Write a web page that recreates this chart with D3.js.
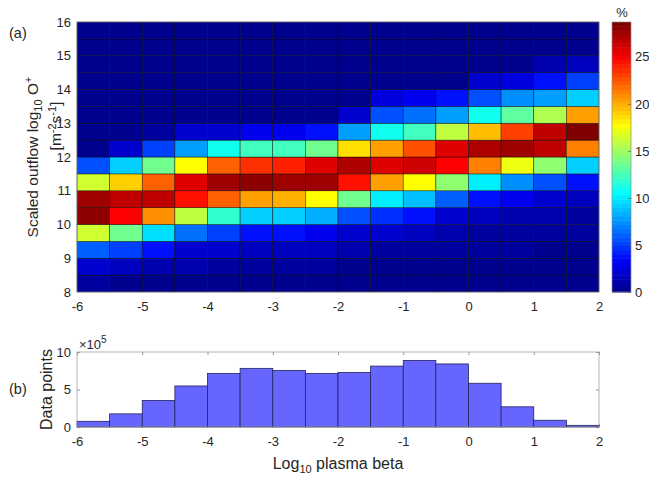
<!DOCTYPE html>
<html>
<head>
<meta charset="utf-8">
<script src="https://cdnjs.cloudflare.com/ajax/libs/d3/7.8.5/d3.min.js"></script>
<style>
    body { margin: 0; background: #fff; }
    text { font-family: "Liberation Sans", Arial, Helvetica, sans-serif; fill: #262626; }
</style>
</head>
<body>
<svg id="fig" width="649" height="479"></svg>
<script>
'use strict';

// left edges of the log10 plasma beta bins
var betaBins = [-6, -5.5, -5, -4.5, -4, -3.5, -3, -2.5, -2, -1.5, -1, -0.5, 0, 0.5, 1, 1.5];
// bottom edges of the log10 outflow bins
var fluxBins = [8, 8.5, 9, 9.5, 10, 10.5, 11, 11.5, 12, 12.5, 13, 13.5, 14, 14.5, 15, 15.5];
var binWidth = 0.5;

// percent of points in each cell, one row per flux bin (bottom row first)
var pct = [
    [0.7, 0.4, 0.3, 0.3, 0.3, 0.2, 0.2, 0.2, 0.2, 0.2, 0.2, 0.2, 0.2, 0.2, 0.2, 0.2],
    [2.2, 1.6, 1.2, 1.1, 0.7, 0.6, 0.6, 0.5, 0.4, 0.4, 0.3, 0.3, 0.3, 0.3, 0.2, 0.2],
    [6.1, 5.0, 3.6, 2.2, 1.8, 1.6, 1.6, 1.4, 1.1, 0.7, 0.6, 0.6, 0.5, 0.5, 0.4, 0.4],
    [16.5, 13.6, 9.8, 6.5, 5.0, 3.6, 3.6, 3.1, 2.2, 2.2, 1.4, 1.1, 0.7, 0.7, 0.6, 0.5],
    [28.0, 25.1, 20.8, 15.8, 11.8, 9.3, 9.0, 8.1, 5.7, 4.7, 3.6, 2.2, 1.7, 1.2, 1.0, 0.7],
    [27.5, 26.5, 26.5, 24.6, 22.0, 20.3, 19.9, 17.9, 13.6, 10.0, 8.6, 6.0, 3.6, 2.7, 1.8, 1.4],
    [16.5, 19.0, 22.0, 25.6, 27.8, 28.0, 27.8, 27.8, 24.4, 20.3, 17.9, 14.4, 10.0, 7.2, 5.4, 3.6],
    [5.7, 9.3, 13.6, 17.9, 22.0, 23.7, 24.0, 26.0, 27.3, 25.6, 26.3, 25.1, 21.2, 17.4, 14.4, 9.3],
    [0.4, 2.2, 5.0, 7.9, 10.8, 12.2, 12.5, 13.6, 18.4, 20.6, 22.7, 25.6, 27.0, 27.5, 26.5, 21.5],
    [0.1, 0.2, 0.6, 1.8, 2.2, 2.7, 3.1, 3.6, 7.9, 10.8, 12.2, 16.1, 19.7, 23.0, 26.5, 28.7],
    [0.1, 0.1, 0.1, 0.1, 0.2, 0.2, 0.2, 0.2, 1.8, 5.7, 6.5, 7.9, 11.1, 13.3, 15.4, 20.6],
    [0.1, 0.1, 0.1, 0.1, 0.1, 0.1, 0.1, 0.1, 0.1, 2.5, 3.1, 3.6, 5.7, 7.2, 7.9, 9.3],
    [0.1, 0.1, 0.1, 0.1, 0.1, 0.1, 0.1, 0.1, 0.1, 0.1, 0.1, 0.1, 1.8, 2.5, 3.6, 5.0],
    [0.0, 0.0, 0.0, 0.0, 0.0, 0.0, 0.0, 0.0, 0.0, 0.0, 0.0, 0.0, 0.1, 0.2, 0.9, 1.6],
    [0.0, 0.0, 0.0, 0.0, 0.0, 0.0, 0.0, 0.0, 0.0, 0.0, 0.0, 0.0, 0.0, 0.1, 0.2, 0.4],
    [0.0, 0.0, 0.0, 0.0, 0.0, 0.0, 0.0, 0.0, 0.0, 0.0, 0.0, 0.0, 0.0, 0.0, 0.0, 0.0]
];

// data points per beta bin, in units of 1e5
var counts = [0.76, 1.75, 3.54, 5.47, 7.15, 7.82, 7.55, 7.15, 7.28, 8.12, 8.88, 8.41, 5.83, 2.69, 0.9, 0.22];

var betaTicks = [-6, -5, -4, -3, -2, -1, 0, 1, 2];
var fluxTicks = [8, 9, 10, 11, 12, 13, 14, 15, 16];
var pctTicks = [0, 5, 10, 15, 20, 25];
var countTicks = [0, 5, 10];
var pctMax = 28.7;

var svg = d3.select('#fig');

var x = d3.scaleLinear().domain([-6, 2]).range([77, 599]);
var y = d3.scaleLinear().domain([8, 16]).range([292, 22]);
var yh = d3.scaleLinear().domain([0, 10]).range([427, 352]);
var yc = d3.scaleLinear().domain([0, pctMax]).range([292, 22]);

// plain hyphen minus like matlab, not the unicode one
var fmt = function (d) { return String(d); };

// matlab jet(m)
var jet = function (m) {
    var n = Math.ceil(m / 4), u = [], i;
    for (i = 1; i <= n; i++) u.push(i / n);
    for (i = 1; i < n; i++) u.push(1);
    for (i = n; i >= 1; i--) u.push(i / n);
    var off = Math.ceil(n / 2) - (m % 4 === 1 ? 1 : 0);
    var pick = function (j) {
        return (j >= 1 && j <= u.length) ? u[j - 1] : 0;
    };
    var out = [];
    for (var p = 1; p <= m; p++) {
        out.push(d3.rgb(255 * pick(p - off - n), 255 * pick(p - off), 255 * pick(p - off + n)).toString());
    }
    return out;
};
var jetColors = jet(64);
var color = d3.scaleQuantize().domain([0, pctMax]).range(jetColors);

// ---- (a) heat map
var cells = [];
pct.forEach(function (row, i) {
    row.forEach(function (v, j) {
        cells.push({b: betaBins[j], f: fluxBins[i], v: v});
    });
});

svg.append('g').attr('class', 'cells')
    .selectAll('rect')
    .data(cells)
    .enter().append('rect')
    .attr('x', function (c) { return x(c.b); })
    .attr('y', function (c) { return y(c.f + binWidth); })
    .attr('width', function (c) { return x(c.b + binWidth) - x(c.b); })
    .attr('height', function (c) { return y(c.f) - y(c.f + binWidth); })
    .attr('fill', function (c) { return color(c.v); })
    .attr('stroke', '#000')
    .attr('stroke-opacity', 0.7)
    .attr('stroke-width', 0.6);

svg.append('rect')
    .attr('x', x(-6)).attr('y', y(16))
    .attr('width', x(2) - x(-6)).attr('height', y(8) - y(16))
    .attr('fill', 'none').attr('stroke', '#8a8a8a').attr('stroke-width', 0.7);

svg.append('g').attr('transform', 'translate(0,' + y(8) + ')')
    .call(d3.axisBottom(x).tickValues(betaTicks).tickFormat(fmt).tickSize(0).tickPadding(10));
svg.append('g').attr('transform', 'translate(' + x(-6) + ',0)')
    .call(d3.axisLeft(y).tickValues(fluxTicks).tickFormat(fmt).tickSize(0).tickPadding(6));

// ---- colour bar
var cbX = 612, cbW = 19;
svg.append('g').selectAll('rect')
    .data(jetColors)
    .enter().append('rect')
    .attr('x', cbX)
    .attr('y', function (c, i) { return yc((i + 1) * pctMax / 64); })
    .attr('width', cbW)
    .attr('height', function (c, i) { return yc(i * pctMax / 64) - yc((i + 1) * pctMax / 64) + 0.5; })
    .attr('fill', function (c) { return c; });
svg.append('rect')
    .attr('x', cbX).attr('y', yc(pctMax)).attr('width', cbW).attr('height', yc(0) - yc(pctMax))
    .attr('fill', 'none').attr('stroke', '#8a8a8a').attr('stroke-width', 0.7);
svg.append('g').attr('transform', 'translate(' + (cbX + cbW) + ',0)')
    .call(d3.axisRight(yc).tickValues(pctTicks).tickFormat(fmt).tickSize(-3).tickPadding(4));

svg.append('text').attr('x', 622).attr('y', 17)
    .attr('text-anchor', 'middle').style('font-size', '13px').text('%');

// ---- (b) histogram
svg.append('g').attr('transform', 'translate(0,' + yh(0) + ')')
    .call(d3.axisBottom(x).tickValues(betaTicks).tickFormat(fmt).tickSize(-3).tickPadding(9.5));
svg.append('g').attr('transform', 'translate(0,' + yh(10) + ')')
    .call(d3.axisTop(x).tickValues(betaTicks).tickSize(-3).tickFormat(''));
svg.append('g').attr('transform', 'translate(' + x(-6) + ',0)')
    .call(d3.axisLeft(yh).tickValues(countTicks).tickFormat(fmt).tickSize(-3).tickPadding(6));
svg.append('g').attr('transform', 'translate(' + x(2) + ',0)')
    .call(d3.axisRight(yh).tickValues(countTicks).tickSize(-3).tickFormat(''));

svg.append('g').attr('class', 'bars')
    .selectAll('rect')
    .data(counts)
    .enter().append('rect')
    .attr('x', function (c, i) { return x(betaBins[i]); })
    .attr('y', function (c) { return yh(c); })
    .attr('width', function (c, i) { return x(betaBins[i] + binWidth) - x(betaBins[i]); })
    .attr('height', function (c) { return yh(0) - yh(c); })
    .attr('fill', '#6666ff')
    .attr('stroke', '#23235e')
    .attr('stroke-width', 0.8);

svg.append('rect')
    .attr('x', x(-6)).attr('y', yh(10))
    .attr('width', x(2) - x(-6)).attr('height', yh(0) - yh(10))
    .attr('fill', 'none').attr('stroke', '#a0a0a0').attr('stroke-width', 0.8);

// axis styling, matlab-ish
svg.selectAll('.domain').remove();
svg.selectAll('.tick line').attr('stroke', '#4d4d4d').attr('stroke-width', 0.6);
svg.selectAll('.tick text')
    .style('font-size', '13px')
    .style('font-family', '"Liberation Sans", Arial, sans-serif')
    .attr('fill', '#262626');

// exponent above histogram
var ex = svg.append('text').attr('x', 79).attr('y', 349).style('font-size', '13px');
ex.append('tspan').text('\u00d710');
ex.append('tspan').attr('dy', -6).style('font-size', '10px').text('5');

// panel letters
svg.append('text').attr('x', 9).attr('y', 38).style('font-size', '14.5px').text('(a)');
svg.append('text').attr('x', 9).attr('y', 394).style('font-size', '14.5px').text('(b)');

// y label of (a), two lines
var yl1 = svg.append('text')
    .attr('transform', 'translate(38,157) rotate(-90)')
    .attr('text-anchor', 'middle').style('font-size', '15.5px');
yl1.append('tspan').text('Scaled outflow log');
yl1.append('tspan').attr('dy', 3.5).style('font-size', '11px').text('10');
yl1.append('tspan').attr('dy', -3.5).text(' O');
yl1.append('tspan').attr('dy', -6).style('font-size', '11px').text('+');

var yl2 = svg.append('text')
    .attr('transform', 'translate(61,126) rotate(-90)')
    .attr('text-anchor', 'middle').style('font-size', '15.5px');
yl2.append('tspan').text('[m');
yl2.append('tspan').attr('dy', -5.5).style('font-size', '11px').text('-2');
yl2.append('tspan').attr('dy', 5.5).text('s');
yl2.append('tspan').attr('dy', -5.5).style('font-size', '11px').text('-1');
yl2.append('tspan').attr('dy', 5.5).text(']');

// y label of (b)
svg.append('text')
    .attr('transform', 'translate(52,389.5) rotate(-90)')
    .attr('text-anchor', 'middle').style('font-size', '16px')
    .text('Data points');

// x label
var xl = svg.append('text').attr('x', (x(-6) + x(2)) / 2).attr('y', 469)
    .attr('text-anchor', 'middle').style('font-size', '16px');
xl.append('tspan').text('Log');
xl.append('tspan').attr('dy', 4).style('font-size', '11px').text('10');
xl.append('tspan').attr('dy', -4).text(' plasma beta');
</script>
</body>
</html>
